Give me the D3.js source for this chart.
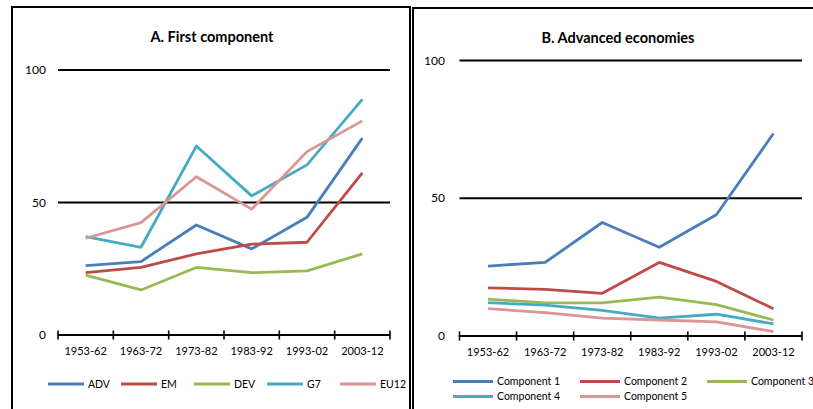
<!DOCTYPE html>
<html>
<head>
<meta charset="utf-8">
<script src="https://cdn.jsdelivr.net/npm/d3@7/dist/d3.min.js"></script>
<style>
  html, body { margin: 0; padding: 0; background: #fff; overflow: hidden; }
  svg { display: block; font-family: Lato, "Open Sans", sans-serif; }
</style>
</head>
<body>
<svg id="chart" width="813" height="409"></svg>
<script>
// 期间（横轴分类）
const periods = ["1953-62", "1963-72", "1973-82", "1983-92", "1993-02", "2003-12"];
const yTicks = [0, 50, 100];

// A. First component
const seriesA = ["ADV", "EM", "DEV", "G7", "EU12"];
const advA  = [26.2, 27.7, 41.5, 32.5, 44.4, 74.3];
const emA   = [23.5, 25.5, 30.6, 34.3, 35.0, 61.2];
const devA  = [22.6, 17.0, 25.5, 23.5, 24.2, 30.6];
const g7A   = [37.1, 33.1, 71.3, 52.5, 64.2, 88.9];
const eu12A = [36.5, 42.4, 59.7, 47.5, 69.2, 80.8];

// B. Advanced economies
const seriesB = ["Component 1", "Component 2", "Component 3", "Component 4", "Component 5"];
const comp1 = [25.4, 26.7, 41.2, 32.2, 44.0, 73.5];
const comp2 = [17.5, 16.9, 15.5, 26.7, 19.8, 9.9];
const comp3 = [13.4, 12.0, 12.0, 14.1, 11.4, 5.8];
const comp4 = [12.1, 11.2, 9.3, 6.5, 7.9, 4.4];
const comp5 = [9.9, 8.5, 6.5, 5.8, 5.1, 1.6];

const colors = ["#4A7EBB", "#BE4B48", "#98B954", "#46AAC5", "#D99694"];

const svg = d3.select("#chart");

// 面板边框
svg.append("rect").attr("x", 12).attr("y", 7).attr("width", 398).attr("height", 430)
    .attr("fill", "none").attr("stroke", "#000").attr("stroke-width", 2);
svg.append("rect").attr("x", 413).attr("y", 8).attr("width", 430).attr("height", 430)
    .attr("fill", "none").attr("stroke", "#000").attr("stroke-width", 2);

function drawPanel(p) {
    const g = svg.append("g");

    const x = d3.scaleBand().domain(periods).range([p.left, p.right]).padding(0);
    const y = d3.scaleLinear().domain([0, 100]).range([p.bottom, p.top]);

    // 标题
    g.append("text")
        .attr("x", p.titleX).attr("y", p.titleY)
        .attr("text-anchor", "middle")
        .style("font-size", "14.5px").style("font-weight", "bold")
        .text(p.title);

    // 网格线
    g.selectAll(".grid")
        .data(yTicks.filter(d => d > 0))
        .join("line")
        .attr("x1", p.left).attr("x2", p.right)
        .attr("y1", d => y(d)).attr("y2", d => y(d))
        .attr("stroke", "#000").attr("stroke-width", 2);

    // 纵轴标签
    g.selectAll(".ylab")
        .data(yTicks)
        .join("text")
        .attr("x", p.yLabelX).attr("y", d => y(d))
        .attr("dy", "0.35em")
        .attr("text-anchor", "end")
        .style("font-size", "12px")
        .text(d => d);

    // 横轴（刻度在分类边界处，交叉式）
    g.append("line")
        .attr("x1", p.left).attr("x2", p.right)
        .attr("y1", y(0)).attr("y2", y(0))
        .attr("stroke", "#000").attr("stroke-width", 2);
    const bounds = periods.map(d => x(d)).concat([p.right]);
    g.selectAll(".tick")
        .data(bounds)
        .join("line")
        .attr("x1", d => d).attr("x2", d => d)
        .attr("y1", y(0) - 4.5).attr("y2", y(0) + 4.5)
        .attr("stroke", "#000").attr("stroke-width", 1.6);

    const xAxis = g.append("g")
        .attr("transform", `translate(0,${y(0)})`)
        .call(d3.axisBottom(x).tickSize(0).tickPadding(12));
    xAxis.select(".domain").remove();
    xAxis.selectAll("text").style("font-size", "11px").style("font-family", "Lato, sans-serif").attr("fill", "#000");

    // 折线
    const line = d3.line()
        .x((d, i) => x(periods[i]) + x.bandwidth() / 2)
        .y(d => y(d));
    g.selectAll(".series")
        .data(p.values)
        .join("path")
        .attr("fill", "none")
        .attr("stroke", (d, i) => colors[i])
        .attr("stroke-width", 2.8)
        .attr("stroke-linejoin", "round")
        .attr("d", line);

    // 图例
    const leg = g.selectAll(".leg")
        .data(p.names)
        .join("g")
        .attr("transform", (d, i) => {
            const col = i % p.legCols, row = Math.floor(i / p.legCols);
            return `translate(${p.legX + col * p.legStep},${p.legY + row * 15})`;
        });
    leg.append("line")
        .attr("x1", 0).attr("x2", p.legLine)
        .attr("stroke", (d, i) => colors[i])
        .attr("stroke-width", 2.8);
    leg.append("text")
        .attr("x", p.legLine + 4)
        .attr("dy", "0.35em")
        .style("font-size", "10.5px")
        .text(d => d);
}

drawPanel({
    title: "A. First component", titleX: 212, titleY: 42,
    left: 58, right: 390, top: 70, bottom: 335,
    yLabelX: 46,
    names: seriesA, values: [advA, emA, devA, g7A, eu12A],
    legX: 48, legY: 384, legStep: 73, legCols: 5, legLine: 36
});

drawPanel({
    title: "B. Advanced economies", titleX: 618, titleY: 43,
    left: 459.5, right: 802, top: 60.5, bottom: 336,
    yLabelX: 445,
    names: seriesB, values: [comp1, comp2, comp3, comp4, comp5],
    legX: 453, legY: 381.5, legStep: 127, legCols: 3, legLine: 40
});
</script>
</body>
</html>
